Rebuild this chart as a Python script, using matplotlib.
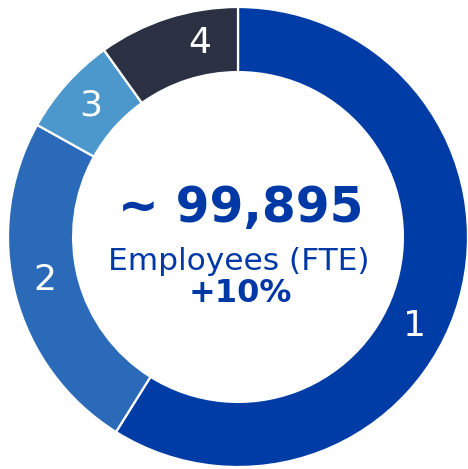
import numpy as np
import matplotlib
matplotlib.use("Agg")
import matplotlib.pyplot as plt

labels = ["1", "2", "3", "4"]
values = [58.9, 24.2, 7.0, 9.9]
colors = ["#003CA6", "#2B6AB8", "#4C98CC", "#2B3042"]
headline = "~ 99,895"
subtitle = "Employees (FTE)"
change = "+10%"

# relative position of each label inside its wedge (style)
label_frac = [0.55, 0.52, 0.5, 0.69]

fig = plt.figure(figsize=(4.68, 4.69), dpi=100)
ax = fig.add_axes([0, 0, 1, 1])
R = 1.0
ax.pie(values, colors=colors, startangle=90, counterclock=False, radius=R,
       wedgeprops=dict(width=0.283, edgecolor="white", linewidth=1.6))
ax.set_aspect("equal")
ax.set_xlim(-238 / 230, 230 / 230)
ax.set_ylim(-232 / 230, 237 / 230)
ax.axis("off")

total = sum(values)
start = 0.0
for lab, v, f in zip(labels, values, label_frac):
    ang = (start + v * f) / total * 2 * np.pi  # clockwise from top
    r = 0.86
    ax.text(r * np.sin(ang), r * np.cos(ang), lab, color="white", fontsize=26,
            ha="center", va="center")
    start += v

blue = "#0039A6"
ax.text(0.01, 0.065, headline, color=blue, fontsize=35, fontweight="bold",
        ha="center", va="baseline")
ax.text(0.004, -0.143, subtitle, color=blue, fontsize=22.5,
        ha="center", va="baseline")
ax.text(0.012, -0.283, change, color=blue, fontsize=23, fontweight="bold",
        ha="center", va="baseline")

fig.savefig("out.png", dpi=100, facecolor="white")
